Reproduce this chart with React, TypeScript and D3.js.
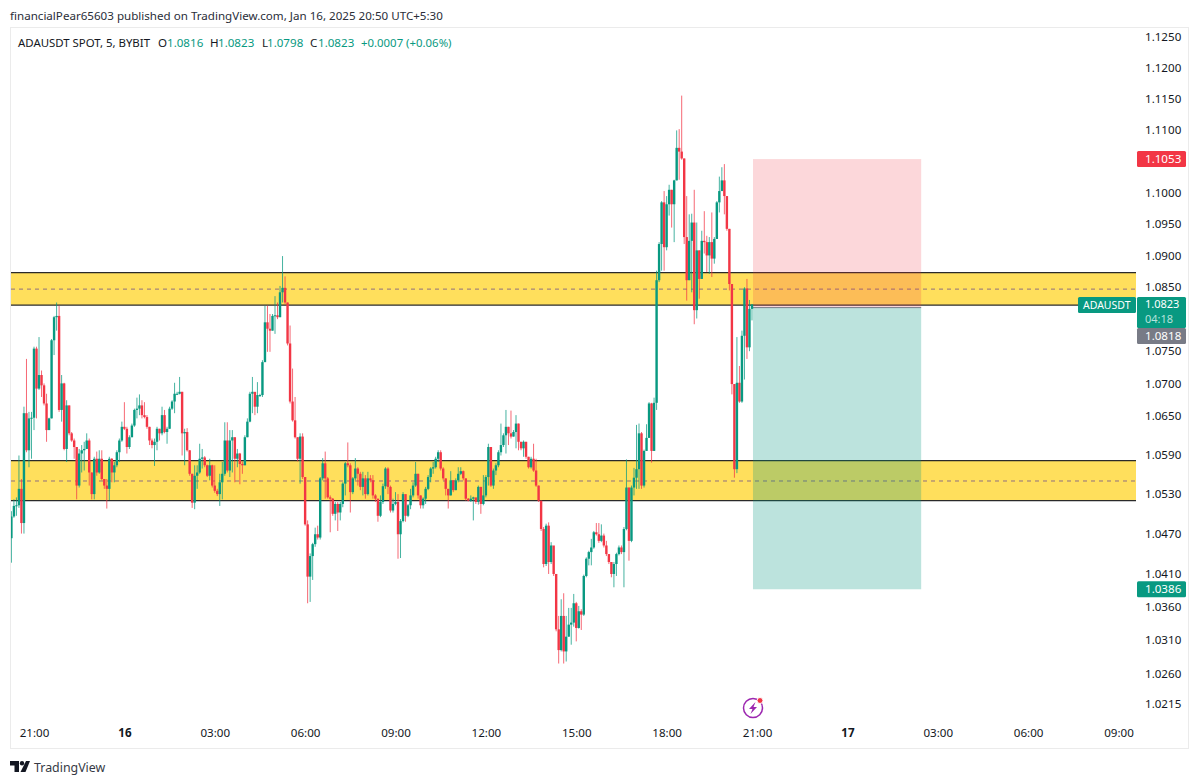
import { useRef, useEffect } from 'react';
import * as d3 from 'd3';

const width = 1200;
const height = 784;
const fontFamily = '"Noto Sans", sans-serif';
const upColor = '#089981';
const downColor = '#F23645';

// 5 minute bars. open of each bar = close of the one before it
const firstOpen = 1.0463;
const closes = [
    1.0496, 1.0512, 1.0513, 1.0538, 1.0486, 1.0654, 1.0597, 1.0646, 1.0647, 1.0754,
    1.0692, 1.0713, 1.0697, 1.0669, 1.0628, 1.0646, 1.0767, 1.0803, 1.0805, 1.0659,
    1.0700, 1.0599, 1.0666, 1.0623, 1.0612, 1.0602, 1.0543, 1.0592, 1.0597, 1.0599,
    1.0612, 1.0563, 1.0530, 1.0584, 1.0563, 1.0584, 1.0553, 1.0543, 1.0538, 1.0584,
    1.0563, 1.0574, 1.0594, 1.0612, 1.0633, 1.0630, 1.0602, 1.0617, 1.0635, 1.0659,
    1.0661, 1.0666, 1.0651, 1.0648, 1.0633, 1.0612, 1.0605, 1.0610, 1.0630, 1.0623,
    1.0651, 1.0625, 1.0630, 1.0661, 1.0672, 1.0684, 1.0684, 1.0687, 1.0623, 1.0625,
    1.0597, 1.0561, 1.0517, 1.0558, 1.0563, 1.0584, 1.0586, 1.0574, 1.0558, 1.0574,
    1.0543, 1.0535, 1.0530, 1.0548, 1.0561, 1.0612, 1.0566, 1.0612, 1.0617, 1.0584,
    1.0592, 1.0576, 1.0574, 1.0617, 1.0641, 1.0684, 1.0687, 1.0664, 1.0682, 1.0682,
    1.0733, 1.0795, 1.0785, 1.0782, 1.0805, 1.0806, 1.0803, 1.0842, 1.0849, 1.0826,
    1.0762, 1.0672, 1.0643, 1.0617, 1.0584, 1.0618, 1.0556, 1.0484, 1.0405, 1.0436,
    1.0454, 1.0469, 1.0464, 1.0554, 1.0577, 1.0554, 1.0525, 1.0523, 1.0500, 1.0515,
    1.0502, 1.0515, 1.0546, 1.0577, 1.0574, 1.0533, 1.0554, 1.0569, 1.0561, 1.0541,
    1.0554, 1.0530, 1.0554, 1.0551, 1.0528, 1.0523, 1.0497, 1.0518, 1.0542, 1.0569,
    1.0541, 1.0505, 1.0515, 1.0518, 1.0469, 1.0489, 1.0530, 1.0497, 1.0513, 1.0528,
    1.0543, 1.0561, 1.0528, 1.0513, 1.0523, 1.0538, 1.0556, 1.0569, 1.0571, 1.0584,
    1.0594, 1.0569, 1.0554, 1.0538, 1.0528, 1.0551, 1.0536, 1.0551, 1.0561, 1.0565,
    1.0554, 1.0523, 1.0520, 1.0523, 1.0525, 1.0518, 1.0541, 1.0515, 1.0528, 1.0556,
    1.0602, 1.0543, 1.0566, 1.0574, 1.0594, 1.0605, 1.0620, 1.0633, 1.0623, 1.0618,
    1.0625, 1.0638, 1.0610, 1.0600, 1.0610, 1.0587, 1.0571, 1.0584, 1.0566, 1.0543,
    1.0520, 1.0477, 1.0424, 1.0482, 1.0427, 1.0452, 1.0409, 1.0326, 1.0295, 1.0346,
    1.0293, 1.0315, 1.0333, 1.0336, 1.0365, 1.0328, 1.0353, 1.0348, 1.0406, 1.0432,
    1.0442, 1.0449, 1.0472, 1.0469, 1.0459, 1.0467, 1.0452, 1.0439, 1.0427, 1.0409,
    1.0424, 1.0439, 1.0449, 1.0442, 1.0477, 1.0540, 1.0459, 1.0540, 1.0555, 1.0568,
    1.0623, 1.0543, 1.0596, 1.0616, 1.0669, 1.0596, 1.0670, 1.0861, 1.0918, 1.0984,
    1.0913, 1.0981, 1.1004, 1.0981, 1.1019, 1.1071, 1.1065, 1.1054, 1.0929, 1.0861,
    1.0923, 1.0952, 1.0814, 1.0908, 1.0863, 1.0923, 1.0921, 1.0900, 1.0921, 1.0895,
    1.0926, 1.0984, 1.1002, 1.1019, 1.0994, 1.0942, 1.0855, 1.0699, 1.0568, 1.0701,
    1.0672, 1.0774, 1.0848, 1.0756, 1.0816, 1.0823,
];
const highs = [
    1.0504, 1.0522, 1.0525, 1.0589, 1.0553, 1.0664, 1.0738, 1.0656, 1.0656, 1.0757,
    1.0757, 1.0772, 1.0720, 1.0700, 1.0684, 1.0647, 1.0769, 1.0805, 1.0826, 1.0821,
    1.0713, 1.0701, 1.0674, 1.0666, 1.0625, 1.0615, 1.0602, 1.0599, 1.0605, 1.0610,
    1.0623, 1.0615, 1.0563, 1.0587, 1.0595, 1.0597, 1.0597, 1.0553, 1.0553, 1.0587,
    1.0585, 1.0579, 1.0597, 1.0615, 1.0641, 1.0671, 1.0633, 1.0620, 1.0638, 1.0661,
    1.0678, 1.0683, 1.0674, 1.0671, 1.0651, 1.0633, 1.0615, 1.0615, 1.0633, 1.0630,
    1.0664, 1.0659, 1.0633, 1.0664, 1.0674, 1.0701, 1.0687, 1.0710, 1.0687, 1.0630,
    1.0631, 1.0597, 1.0561, 1.0574, 1.0574, 1.0607, 1.0599, 1.0588, 1.0575, 1.0584,
    1.0575, 1.0574, 1.0538, 1.0561, 1.0579, 1.0640, 1.0640, 1.0628, 1.0628, 1.0617,
    1.0599, 1.0593, 1.0580, 1.0620, 1.0646, 1.0687, 1.0710, 1.0684, 1.0702, 1.0684,
    1.0736, 1.0821, 1.0821, 1.0808, 1.0808, 1.0836, 1.0826, 1.0852, 1.0899, 1.0867,
    1.0826, 1.0790, 1.0723, 1.0679, 1.0617, 1.0623, 1.0623, 1.0556, 1.0490, 1.0440,
    1.0456, 1.0479, 1.0482, 1.0556, 1.0585, 1.0595, 1.0556, 1.0528, 1.0524, 1.0518,
    1.0518, 1.0518, 1.0548, 1.0579, 1.0609, 1.0577, 1.0556, 1.0585, 1.0571, 1.0564,
    1.0564, 1.0559, 1.0564, 1.0559, 1.0559, 1.0530, 1.0523, 1.0528, 1.0546, 1.0571,
    1.0571, 1.0543, 1.0523, 1.0533, 1.0530, 1.0492, 1.0533, 1.0528, 1.0515, 1.0538,
    1.0548, 1.0579, 1.0561, 1.0528, 1.0525, 1.0541, 1.0559, 1.0571, 1.0579, 1.0587,
    1.0597, 1.0597, 1.0571, 1.0554, 1.0538, 1.0565, 1.0551, 1.0554, 1.0571, 1.0571,
    1.0566, 1.0554, 1.0524, 1.0528, 1.0526, 1.0524, 1.0543, 1.0541, 1.0559, 1.0559,
    1.0607, 1.0602, 1.0569, 1.0577, 1.0597, 1.0638, 1.0623, 1.0659, 1.0633, 1.0658,
    1.0628, 1.0651, 1.0638, 1.0610, 1.0612, 1.0610, 1.0587, 1.0587, 1.0607, 1.0584,
    1.0543, 1.0520, 1.0480, 1.0485, 1.0487, 1.0457, 1.0434, 1.0409, 1.0346, 1.0371,
    1.0380, 1.0346, 1.0358, 1.0358, 1.0379, 1.0367, 1.0361, 1.0356, 1.0408, 1.0434,
    1.0444, 1.0462, 1.0474, 1.0486, 1.0486, 1.0484, 1.0470, 1.0459, 1.0439, 1.0427,
    1.0427, 1.0441, 1.0452, 1.0452, 1.0480, 1.0583, 1.0540, 1.0543, 1.0570, 1.0636,
    1.0638, 1.0625, 1.0598, 1.0637, 1.0671, 1.0670, 1.0678, 1.0876, 1.0921, 1.0986,
    1.1002, 1.0994, 1.1012, 1.1004, 1.1020, 1.1099, 1.1101, 1.1155, 1.1054, 1.0994,
    1.0965, 1.0966, 1.1004, 1.0952, 1.0908, 1.0939, 1.0970, 1.0931, 1.0929, 1.0968,
    1.0929, 1.0986, 1.1025, 1.1040, 1.1045, 1.0994, 1.0942, 1.0855, 1.0699, 1.0772,
    1.0727, 1.0782, 1.0850, 1.0863, 1.0830, 1.0823,
];
const lows = [
    1.0426, 1.0494, 1.0497, 1.0509, 1.0470, 1.0470, 1.0594, 1.0571, 1.0584, 1.0628,
    1.0646, 1.0690, 1.0679, 1.0666, 1.0610, 1.0628, 1.0646, 1.0744, 1.0782, 1.0656,
    1.0641, 1.0597, 1.0579, 1.0620, 1.0610, 1.0584, 1.0522, 1.0540, 1.0563, 1.0566,
    1.0599, 1.0543, 1.0522, 1.0522, 1.0558, 1.0561, 1.0551, 1.0538, 1.0508, 1.0521,
    1.0548, 1.0548, 1.0571, 1.0579, 1.0610, 1.0628, 1.0592, 1.0599, 1.0617, 1.0633,
    1.0646, 1.0651, 1.0646, 1.0646, 1.0630, 1.0605, 1.0600, 1.0573, 1.0597, 1.0612,
    1.0620, 1.0623, 1.0607, 1.0630, 1.0659, 1.0654, 1.0682, 1.0683, 1.0589, 1.0574,
    1.0595, 1.0558, 1.0509, 1.0507, 1.0538, 1.0561, 1.0569, 1.0571, 1.0556, 1.0551,
    1.0540, 1.0532, 1.0527, 1.0512, 1.0522, 1.0558, 1.0563, 1.0556, 1.0563, 1.0548,
    1.0571, 1.0545, 1.0561, 1.0574, 1.0617, 1.0640, 1.0654, 1.0651, 1.0654, 1.0679,
    1.0679, 1.0733, 1.0749, 1.0749, 1.0782, 1.0777, 1.0800, 1.0803, 1.0826, 1.0823,
    1.0759, 1.0669, 1.0641, 1.0615, 1.0580, 1.0546, 1.0553, 1.0482, 1.0365, 1.0367,
    1.0400, 1.0450, 1.0461, 1.0461, 1.0551, 1.0523, 1.0523, 1.0472, 1.0497, 1.0490,
    1.0474, 1.0490, 1.0510, 1.0528, 1.0571, 1.0502, 1.0530, 1.0551, 1.0543, 1.0536,
    1.0528, 1.0523, 1.0528, 1.0548, 1.0523, 1.0518, 1.0488, 1.0495, 1.0515, 1.0538,
    1.0530, 1.0502, 1.0502, 1.0513, 1.0432, 1.0433, 1.0487, 1.0488, 1.0495, 1.0507,
    1.0525, 1.0541, 1.0523, 1.0508, 1.0508, 1.0515, 1.0536, 1.0548, 1.0561, 1.0569,
    1.0579, 1.0566, 1.0551, 1.0528, 1.0508, 1.0528, 1.0533, 1.0536, 1.0548, 1.0559,
    1.0551, 1.0520, 1.0519, 1.0518, 1.0490, 1.0515, 1.0514, 1.0500, 1.0513, 1.0525,
    1.0543, 1.0541, 1.0538, 1.0559, 1.0571, 1.0589, 1.0602, 1.0592, 1.0605, 1.0615,
    1.0618, 1.0600, 1.0597, 1.0597, 1.0587, 1.0584, 1.0569, 1.0569, 1.0564, 1.0541,
    1.0518, 1.0474, 1.0419, 1.0421, 1.0409, 1.0424, 1.0406, 1.0323, 1.0275, 1.0293,
    1.0275, 1.0278, 1.0315, 1.0303, 1.0330, 1.0308, 1.0327, 1.0325, 1.0346, 1.0404,
    1.0422, 1.0422, 1.0447, 1.0467, 1.0456, 1.0457, 1.0449, 1.0436, 1.0424, 1.0404,
    1.0389, 1.0406, 1.0437, 1.0439, 1.0389, 1.0475, 1.0429, 1.0457, 1.0528, 1.0538,
    1.0538, 1.0538, 1.0540, 1.0596, 1.0616, 1.0578, 1.0596, 1.0659, 1.0858, 1.0876,
    1.0876, 1.0908, 1.0963, 1.0944, 1.0921, 1.1019, 1.1020, 1.1052, 1.0918, 1.0829,
    1.0861, 1.0842, 1.0792, 1.0801, 1.0832, 1.0863, 1.0903, 1.0874, 1.0871, 1.0866,
    1.0887, 1.0926, 1.0968, 1.1002, 1.0965, 1.0939, 1.0845, 1.0683, 1.0555, 1.0562,
    1.0670, 1.0670, 1.0706, 1.0738, 1.0750, 1.0798,
];

const priceTicks = [
    1.125, 1.12, 1.115, 1.11, 1.1, 1.095, 1.09, 1.085, 1.075, 1.07, 1.065,
    1.059, 1.053, 1.047, 1.041, 1.036, 1.031, 1.026, 1.0215,
];
const timeLabels = ['21:00', '16', '03:00', '06:00', '09:00', '12:00', '15:00', '18:00', '21:00', '17', '03:00', '06:00', '09:00'];
const barsPerLabel = 36;
const lastBar = 286; // bars after the first 21:00 label

// support / resistance zones: [top, middle, bottom]
const zones = [
    [1.0873, 1.0847, 1.0822],
    [1.0581, 1.0550, 1.0520],
];
const stopPrice = 1.1053;
const entryPrice = 1.0818;
const targetPrice = 1.0386;
const positionBars = [286.4, 353.4];

const legendSymbol = 'ADAUSDT SPOT, 5, BYBIT';
const legendLetters = ['O', 'H', 'L', 'C'];
const legendValues = ['1.0816', '1.0823', '1.0798', '1.0823'];
const legendChange = '+0.0007 (+0.06%)';
const publishedText = 'financialPear65603 published on TradingView.com, Jan 16, 2025 20:50 UTC+5:30';

const App = () => {
    const svgRef = useRef<SVGSVGElement>(null);

    useEffect(() => {
        if (!svgRef.current) return;
        document.body.style.margin = '0';
        const root = d3.select(svgRef.current);
        root.selectAll('*').remove();

        const plotLeft = 11;
        const plotRight = 1136;

        const x = d3.scaleLinear().domain([0, 288]).range([34, 757]);
        const y = d3.scaleLog().domain([1.125, 1.0215]).range([37, 704]);

        const addText = (parent: any, tx: number, ty: number, str: string, color: string, size = 12) =>
            parent.append('text')
                .attr('x', tx)
                .attr('y', ty)
                .attr('fill', color)
                .style('font-size', `${size}px`)
                .style('font-family', fontFamily)
                .text(str);

        root.append('rect').attr('width', width).attr('height', height).attr('fill', 'white');
        root.append('rect')
            .attr('x', 10.5).attr('y', 27.5)
            .attr('width', 1178).attr('height', 721)
            .attr('fill', 'white')
            .attr('stroke', '#ebebeb');

        root.append('clipPath').attr('id', 'plot')
            .append('rect')
            .attr('x', plotLeft).attr('y', 28)
            .attr('width', plotRight - plotLeft).attr('height', 690);

        const plot = root.append('g').attr('clip-path', 'url(#plot)');

        // zones
        zones.forEach(([top, mid, bottom]) => {
            plot.append('rect')
                .attr('x', plotLeft).attr('width', plotRight - plotLeft)
                .attr('y', y(top)).attr('height', y(bottom) - y(top))
                .attr('fill', '#FFDF5C');
            plot.append('line')
                .attr('x1', plotLeft).attr('x2', plotRight)
                .attr('y1', y(mid)).attr('y2', y(mid))
                .attr('stroke', '#8f6f80').attr('stroke-width', 1)
                .attr('stroke-dasharray', '4 4');
            [top, bottom].forEach(p => {
                plot.append('line')
                    .attr('x1', plotLeft).attr('x2', plotRight)
                    .attr('y1', y(p)).attr('y2', y(p))
                    .attr('stroke', '#2a2a2a').attr('stroke-width', 1.3);
            });
        });

        // long/short position tool
        const posX = x(positionBars[0]);
        const posW = x(positionBars[1]) - posX;
        plot.append('rect')
            .attr('x', posX).attr('width', posW)
            .attr('y', y(stopPrice)).attr('height', y(entryPrice) - y(stopPrice))
            .attr('fill', downColor).attr('fill-opacity', 0.2);
        plot.append('rect')
            .attr('x', posX).attr('width', posW)
            .attr('y', y(entryPrice)).attr('height', y(targetPrice) - y(entryPrice))
            .attr('fill', upColor).attr('fill-opacity', 0.27);
        plot.append('line')
            .attr('x1', posX).attr('x2', posX + posW)
            .attr('y1', y(entryPrice)).attr('y2', y(entryPrice))
            .attr('stroke', '#787b86').attr('stroke-width', 1);

        // candles
        const offset = lastBar - (closes.length - 1);
        const candles = closes.map((c, i) => ({
            bar: i + offset,
            open: i === 0 ? firstOpen : closes[i - 1],
            close: c,
            high: highs[i],
            low: lows[i],
        }));
        const candleColor = (d: any) => (d.close >= d.open ? upColor : downColor);

        const groups = plot.selectAll('.candle').data(candles).enter().append('g').attr('class', 'candle');
        groups.append('line')
            .attr('x1', d => x(d.bar)).attr('x2', d => x(d.bar))
            .attr('y1', d => y(d.high)).attr('y2', d => y(d.low))
            .attr('stroke', candleColor)
            .attr('stroke-width', 1)
            .attr('stroke-opacity', 0.75);
        groups.append('rect')
            .attr('x', d => x(d.bar) - 1.2)
            .attr('width', 2.4)
            .attr('y', d => y(Math.max(d.open, d.close)))
            .attr('height', d => Math.max(1, Math.abs(y(d.open) - y(d.close))))
            .attr('fill', candleColor);

        // axes
        const priceAxis = d3.axisRight(y)
            .tickValues(priceTicks)
            .tickSize(0)
            .tickPadding(0)
            .tickFormat(d => (d as number).toFixed(4));
        const priceG = root.append('g').attr('transform', 'translate(1145, 0)').call(priceAxis as any);
        priceG.select('.domain').remove();
        priceG.selectAll('text')
            .style('font-size', '11.6px')
            .style('font-family', fontFamily)
            .attr('fill', '#131722');

        const timeAxis = d3.axisBottom(x)
            .tickValues(timeLabels.map((_, i) => i * barsPerLabel))
            .tickSize(0)
            .tickPadding(0)
            .tickFormat((_, i) => timeLabels[i]);
        const timeG = root.append('g').attr('transform', 'translate(0, 729)').call(timeAxis as any);
        timeG.select('.domain').remove();
        timeG.selectAll('text')
            .style('font-size', '11.6px')
            .style('font-family', fontFamily)
            .style('font-weight', (_, i) => (timeLabels[i].length < 3 ? 700 : 400))
            .attr('fill', '#131722');

        // price tags on the right
        const tag = (top: number, h: number, color: string) =>
            root.append('rect')
                .attr('x', 1137).attr('y', top)
                .attr('width', 49).attr('height', h)
                .attr('rx', 1.5)
                .attr('fill', color);
        const tagText = (cy: number, str: string, color: string, size = 11.6) =>
            addText(root, 1145, cy + 4, str, color, size);

        tag(y(stopPrice) - 8, 16, downColor);
        tagText(y(stopPrice), stopPrice.toFixed(4), 'white');
        tag(y(targetPrice) - 8, 16, upColor);
        tagText(y(targetPrice), targetPrice.toFixed(4), 'white');

        tag(297, 31, upColor);
        tagText(303.5, closes[closes.length - 1].toFixed(4), 'white', 11);
        tagText(319, '04:18', '#b5e3dc', 11);
        tag(328, 16, '#787b86');
        tagText(336, entryPrice.toFixed(4), 'white');

        root.append('rect')
            .attr('x', 1078).attr('y', 297)
            .attr('width', 58).attr('height', 16)
            .attr('rx', 1.5)
            .attr('fill', upColor);
        addText(root, 1083, 309, 'ADAUSDT', 'white', 10.5);

        // top texts
        addText(root, 10, 20, publishedText, '#2a2e39', 11.6);
        addText(root, 18, 47, legendSymbol, '#131722', 11)
            .attr('textLength', 132)
            .attr('lengthAdjust', 'spacingAndGlyphs');
        const legendLetterX = [158, 210, 262, 310];
        const legendValueX = [167, 218, 267, 318];
        legendLetters.forEach((l, i) => {
            addText(root, legendLetterX[i], 47, l, '#131722', 11.6);
            addText(root, legendValueX[i], 47, legendValues[i], upColor, 11.6);
        });
        addText(root, 361, 47, legendChange, upColor, 11.4);

        // bolt icon above the time axis
        const icon = root.append('g').attr('transform', 'translate(753, 708)');
        icon.append('circle').attr('r', 9.5).attr('fill', 'white').attr('stroke', '#9c27b0').attr('stroke-width', 1.5);
        icon.append('path').attr('d', 'M2.5 -6 L-4 1 L-0.5 1 L-2.5 6 L4 -1 L0.5 -1 Z').attr('fill', '#9c27b0');
        icon.append('circle').attr('cx', 7).attr('cy', -7.5).attr('r', 3).attr('fill', downColor).attr('stroke', 'white');

        // TradingView logo
        const logo = root.append('g').attr('transform', 'translate(10, 761)').attr('fill', '#131722');
        logo.append('path').attr('d', 'M0 0 H9 V11 H4.5 V4.5 H0 Z');
        logo.append('circle').attr('cx', 12).attr('cy', 2.2).attr('r', 2.2);
        logo.append('path').attr('d', 'M16 0 H20 L15.5 11 H10.5 Z');
        addText(root, 34, 771.5, 'TradingView', '#363a45', 12.4);
    }, []);

    return (
        <svg
            ref={svgRef}
            width={width}
            height={height}
            role="img"
            style={{ position: 'absolute', left: 0, top: 0, display: 'block' }}
        ></svg>
    );
};

export default App;
